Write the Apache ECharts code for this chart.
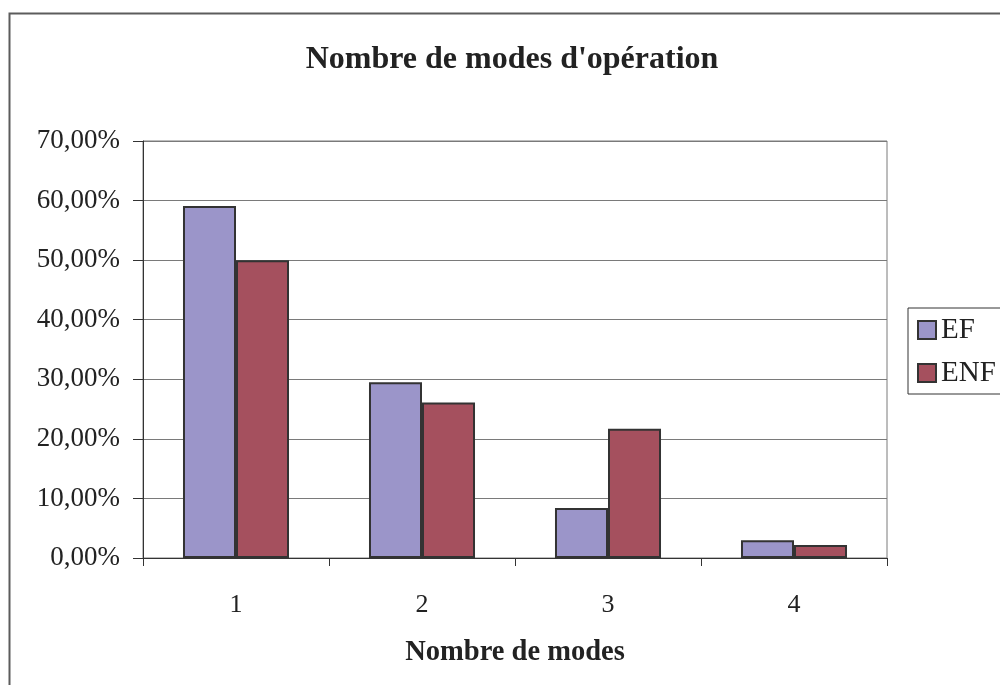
<!DOCTYPE html>
<html>
<head>
<meta charset="utf-8">
<script src="https://cdn.jsdelivr.net/npm/echarts@6/dist/echarts.min.js"></script>
<style>
  html, body { margin: 0; padding: 0; background: #ffffff; }
  #chart { width: 1000px; height: 685px; }
</style>
</head>
<body>
<div id="chart"></div>
<script>
// Share of respondents (%) by number of operating modes
const categories = ['1', '2', '3', '4'];
const efValues = [59.1, 29.5, 8.4, 3.0];
const enfValues = [50.0, 26.1, 21.7, 2.2];
const yTicks = { min: 0, max: 70, step: 10 };

const serif = '"Liberation Serif", "Times New Roman", serif';
const textColor = '#222222';

const chart = echarts.init(document.getElementById('chart'), null, { renderer: 'canvas' });

chart.setOption({
  backgroundColor: '#ffffff',
  animation: false,
  title: {
    text: "Nombre de modes d'opération",
    left: 507,
    top: 39,
    textAlign: 'center',
    textStyle: { fontFamily: serif, fontSize: 32, fontWeight: 'bold', color: textColor }
  },
  graphic: [{
    type: 'rect',
    shape: { x: 9.5, y: 13.5, width: 1100, height: 800 },
    style: { fill: 'none', stroke: '#5c5c5c', lineWidth: 2 },
    silent: true,
    z: 100
  }],
  legend: {
    orient: 'vertical',
    left: 908,
    top: 308,
    padding: [7, 30, 6, 9],
    itemGap: 13,
    itemWidth: 18,
    itemHeight: 18,
    icon: 'rect',
    borderColor: '#333333',
    borderWidth: 1,
    textStyle: { fontFamily: serif, fontSize: 29, color: textColor, lineHeight: 30 },
    data: ['EF', 'ENF']
  },
  grid: {
    left: 143,
    right: 113,
    top: 141,
    bottom: 127,
    show: true,
    borderColor: '#7a7a7a',
    borderWidth: 1,
    containLabel: false
  },
  xAxis: {
    type: 'category',
    data: categories,
    name: 'Nombre de modes',
    nameLocation: 'middle',
    nameGap: 80,
    nameTextStyle: { fontFamily: serif, fontSize: 28.5, fontWeight: 'bold', color: textColor },
    axisLine: { lineStyle: { color: '#333333', width: 1 } },
    axisTick: { show: true, alignWithLabel: false, length: 8, lineStyle: { color: '#333333' } },
    axisLabel: { fontFamily: serif, fontSize: 26, color: textColor, margin: 34 },
    splitLine: { show: false }
  },
  yAxis: {
    type: 'value',
    min: yTicks.min,
    max: yTicks.max,
    interval: yTicks.step,
    axisLine: { show: true, lineStyle: { color: '#333333', width: 1 } },
    axisTick: { show: true, length: 10, lineStyle: { color: '#333333' } },
    axisLabel: {
      fontFamily: serif,
      fontSize: 27,
      color: textColor,
      margin: 23,
      formatter: v => v.toFixed(2).replace('.', ',') + '%'
    },
    splitLine: { show: true, lineStyle: { color: '#7a7a7a', width: 1 } }
  },
  series: [
    {
      name: 'EF',
      type: 'bar',
      data: efValues,
      barGap: '0%',
      barCategoryGap: '43%',
      itemStyle: { color: '#9b95c9', borderColor: '#333333', borderWidth: 2 }
    },
    {
      name: 'ENF',
      type: 'bar',
      data: enfValues,
      itemStyle: { color: '#a5505e', borderColor: '#333333', borderWidth: 2 }
    }
  ]
});
</script>
</body>
</html>
